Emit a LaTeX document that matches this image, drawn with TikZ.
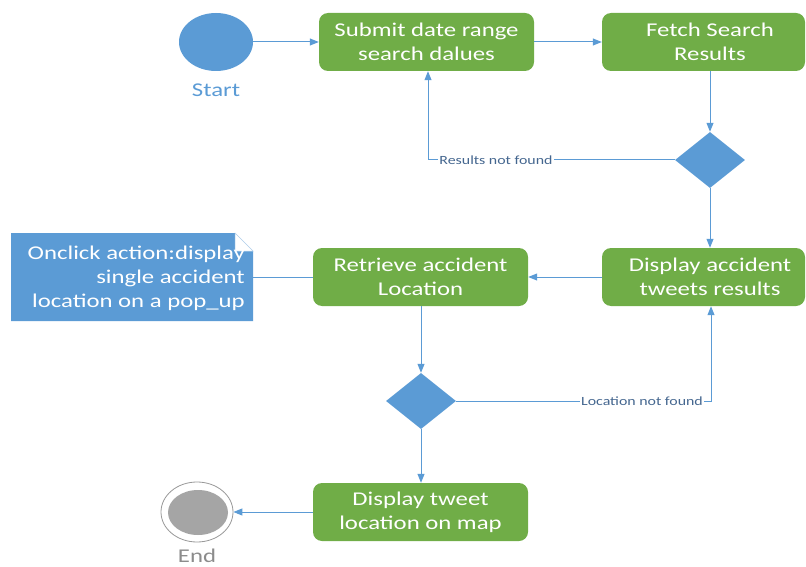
\documentclass[tikz,border=0pt]{standalone}
\usepackage{fontspec}
\setmainfont{Carlito}
\newfontfamily\widefont[FakeStretch=1.27]{Carlito}
\usetikzlibrary{arrows.meta,shapes.geometric}
\definecolor{flowblue}{HTML}{5B9BD5}
\definecolor{flowgreen}{HTML}{70AD47}
\definecolor{labelblue}{HTML}{44668F}
\definecolor{endgray}{HTML}{A5A5A5}
\tikzset{
  bigtext/.style={font=\widefont\fontsize{19.5}{24}\selectfont},
  actiontext/.style={draw=none, text=white, minimum width=#1, minimum height=58pt,
    align=center, bigtext, inner sep=0pt},
  action/.style={actiontext=#1, fill=flowgreen, rounded corners=9pt},
  actionfill/.style={fill=flowgreen, rounded corners=9pt},
  decision/.style={diamond, fill=flowblue, draw=none, minimum width=70pt,
    minimum height=56pt, inner sep=0pt, aspect=1.25},
  flow/.style={draw=flowblue, line width=1pt, -{Triangle[length=9pt,width=7pt]}},
  link/.style={draw=flowblue, line width=1pt},
  guard/.style={fill=white, inner sep=1pt, text=labelblue,
    font=\widefont\fontsize{12.5}{15}\selectfont},
}
\begin{document}
\begin{tikzpicture}[x=1pt,y=-1pt]
\useasboundingbox (0,0) rectangle (806,567);

% start and end states
\node[ellipse, fill=flowblue, minimum width=74pt, minimum height=58pt, inner sep=0pt] (start) at (216,42) {};
\node[text=flowblue, bigtext] (startlbl) at (216,90) {Start};
\node[ellipse, draw=gray!80, line width=0.8pt, fill=white, minimum width=72pt, minimum height=60pt, inner sep=0pt] (end) at (197,512) {};
\node[ellipse, fill=endgray, minimum width=60pt, minimum height=45pt, inner sep=0pt] (endcore) at (198,512.5) {};
\node[text=gray!90, bigtext] (endlbl) at (197,556) {End};

% actions on the right edge: the green block stops at the page edge
\fill[actionfill] (602,13) rectangle (805,71);
\fill[actionfill] (602,248) rectangle (805,306);

\node[action=215pt] (submit) at (426.5,42) {Submit date range\\search dalues};
\node[actiontext=216pt] (fetch) at (710,42) {Fetch Search\\Results};
\node[actiontext=216pt] (display) at (710,277) {Display accident\\tweets results};
\node[action=215pt] (retrieve) at (420.5,277) {Retrieve accident\\Location};
\node[action=215pt] (showmap) at (420.5,512) {Display tweet\\location on map};

% decisions
\node[decision] (found) at (710,160) {};
\node[decision] (located) at (421,401) {};

% note with folded corner
\coordinate (noteanchor) at (253,277);
\fill[flowblue] (11,233) -- (235,233) -- (253,251) -- (253,321) -- (11,321) -- cycle;
\filldraw[fill=white, draw=flowblue!45, line width=0.5pt] (235,233) -- (253,251) -- (235,251) -- cycle;
\node[text=white, align=right, anchor=east, bigtext, inner sep=0pt] (note) at (245,278)
  {Onclick action:display\\single accident\\location on a pop\_up};

% connectors
\coordinate (backup) at (428,160);
\coordinate (backright) at (711,401);
\draw[flow] (start) -- (submit);
\draw[flow] (submit) -- (fetch);
\draw[flow] (fetch.south -| found.north) -- (found.north);
\draw[flow] (found.west) -- (backup) -- (backup |- submit.south);
\node[guard] (nf1) at (496,160) {Results not found};
\draw[flow] (found.south) -- (display.north -| found.south);
\draw[flow] (display) -- (retrieve);
\draw[link] (retrieve.west) -- (noteanchor);
\draw[flow] (retrieve.south -| located.north) -- (located.north);
\draw[flow] (located.east) -- (backright) -- (backright |- display.south);
\node[guard] (nf2) at (642,401) {Location not found};
\draw[flow] (located.south) -- (showmap.north -| located.south);
\draw[flow] (showmap.west) -- (end.east);
\end{tikzpicture}
\end{document}
